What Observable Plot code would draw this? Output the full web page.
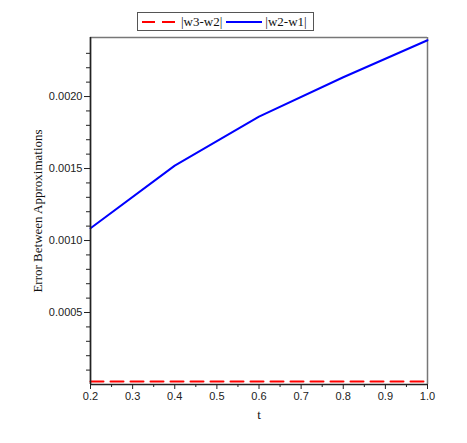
<!DOCTYPE html>
<html>
<head>
<meta charset="utf-8">
<script src="https://cdn.jsdelivr.net/npm/d3@7"></script>
<script src="https://cdn.jsdelivr.net/npm/@observablehq/plot@0.6"></script>
<style>
  body { margin: 0; background: #fff; }
  #wrap { position: relative; width: 467px; height: 443px; }
  #legend { position: absolute; left: 137px; top: 12px; height: 19px; border: 1px solid #555; background:#fff;
    display: flex; align-items: center; font-family: "Liberation Serif", serif; font-size: 13px; color: #111; padding: 0 2px 0 4px; box-sizing: border-box; }
  #legend svg { display: block; }
  #legend span { margin: 0 4px 0 3px; }
</style>
</head>
<body>
<div id="wrap"><div id="chart"></div><div id="legend"></div></div>
<script>
const tValues = [0.2, 0.4, 0.6, 0.8, 1.0];
const w2w1 = [0.001085, 0.00152, 0.00186, 0.002134, 0.002391];
const w3w2 = [0.00002, 0.00002, 0.00002, 0.00002, 0.00002];
const seriesNames = ["|w3-w2|", "|w2-w1|"];
const seriesColors = ["#ff0000", "#0000ff"];
const xTicks = [0.2, 0.3, 0.4, 0.5, 0.6, 0.7, 0.8, 0.9, 1.0];
const xMinor = [0.25, 0.35, 0.45, 0.55, 0.65, 0.75, 0.85, 0.95];
const yTicks = [0.0005, 0.0010, 0.0015, 0.0020];
const yMinor = [0.0001,0.0002,0.0003,0.0004,0.0006,0.0007,0.0008,0.0009,0.0011,0.0012,0.0013,0.0014,0.0016,0.0017,0.0018,0.0019,0.0021,0.0022,0.0023];

const blue = tValues.map((t, i) => ({t, v: w2w1[i]}));
const red = tValues.map((t, i) => ({t, v: w3w2[i]}));

const plot = Plot.plot({
  width: 467, height: 443,
  marginTop: 37, marginBottom: 59, marginLeft: 90, marginRight: 40,
  style: {fontFamily: "Liberation Sans, sans-serif", fontSize: "11px", color: "#222", background: "#fff"},
  x: {type: "linear", domain: [0.2, 1.0], label: null},
  y: {type: "linear", domain: [0, 0.00241], label: null},
  marks: [
    Plot.ruleX([0.2, 1.0], {stroke: "#777", strokeWidth: 1.5}),
    Plot.ruleY([0.00241], {stroke: "#777", strokeWidth: 1.5}),
    Plot.lineY(red, {x: "t", y: "v", stroke: seriesColors[0], strokeWidth: 2, strokeDasharray: "13,7"}),
    Plot.lineY(blue, {x: "t", y: "v", stroke: seriesColors[1], strokeWidth: 2}),
    Plot.ruleY([0], {stroke: "#222", strokeWidth: 1.5}),
    Plot.ruleX([0.2], {stroke: "#222", strokeWidth: 1.5}),
    Plot.axisX({ticks: xMinor, tickFormat: () => "", tickSize: 3, label: null}),
    Plot.axisY({ticks: yMinor, tickFormat: () => "", tickSize: 4, label: null}),
    Plot.axisX({ticks: xTicks, tickFormat: d => d.toFixed(1), tickSize: 5, tickPadding: 3, label: null}),
    Plot.axisY({ticks: yTicks, tickFormat: d => d.toFixed(4), tickSize: 6, tickPadding: 2, label: null}),
    Plot.text(["t"], {frameAnchor: "bottom", lineAnchor: "bottom", dy: 34, fontFamily: "Liberation Serif, serif", fontSize: 13, fill: "#111"}),
    Plot.text(["Error Between Approximations"], {frameAnchor: "left", textAnchor: "middle", dx: -53, rotate: -90, fontFamily: "Liberation Serif, serif", fontSize: 13, fill: "#111"})
  ]
});
document.getElementById("chart").append(plot);

const legend = document.getElementById("legend");
seriesNames.forEach((name, i) => {
  const ns = "http://www.w3.org/2000/svg";
  const s = document.createElementNS(ns, "svg");
  s.setAttribute("width", 36); s.setAttribute("height", 10);
  const l = document.createElementNS(ns, "line");
  l.setAttribute("x1", 0); l.setAttribute("x2", 36); l.setAttribute("y1", 5); l.setAttribute("y2", 5);
  l.setAttribute("stroke", seriesColors[i]); l.setAttribute("stroke-width", 2);
  if (i === 0) l.setAttribute("stroke-dasharray", "13,7");
  s.append(l);
  legend.append(s);
  const sp = document.createElement("span");
  sp.textContent = name;
  legend.append(sp);
});
</script>
</body>
</html>
